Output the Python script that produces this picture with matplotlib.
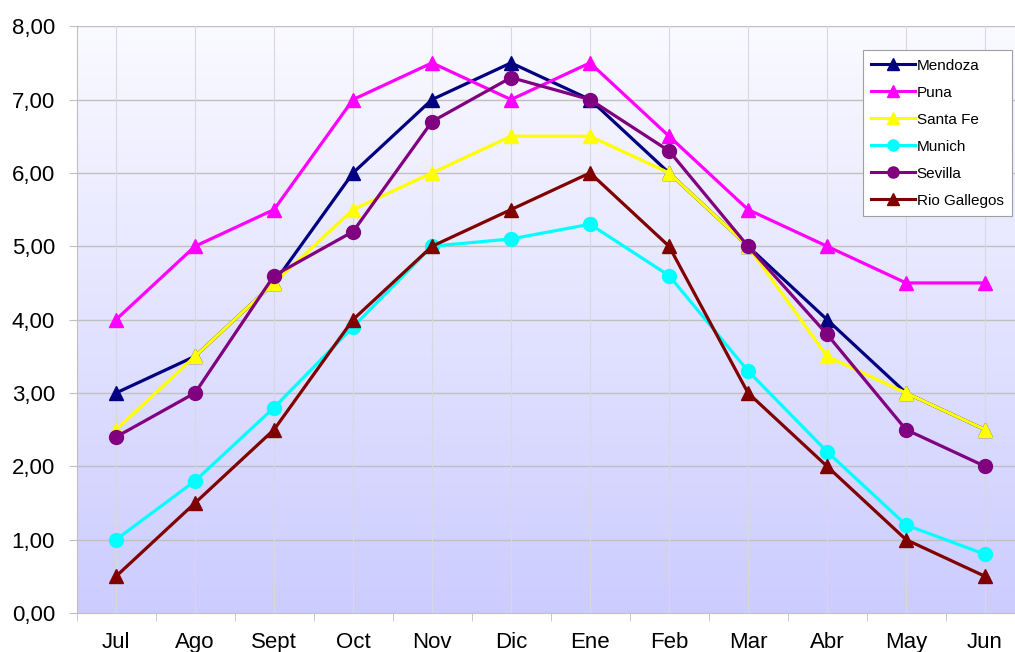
import matplotlib.pyplot as plt
import numpy as np
from matplotlib.ticker import FuncFormatter

meses = ['Jul', 'Ago', 'Sept', 'Oct', 'Nov', 'Dic', 'Ene', 'Feb', 'Mar', 'Abr', 'May', 'Jun']

mendoza = [3.0, 3.5, 4.5, 6.0, 7.0, 7.5, 7.0, 6.0, 5.0, 4.0, 3.0, 2.5]
puna = [4.0, 5.0, 5.5, 7.0, 7.5, 7.0, 7.5, 6.5, 5.5, 5.0, 4.5, 4.5]
santa_fe = [2.5, 3.5, 4.5, 5.5, 6.0, 6.5, 6.5, 6.0, 5.0, 3.5, 3.0, 2.5]
munich = [1.0, 1.8, 2.8, 3.9, 5.0, 5.1, 5.3, 4.6, 3.3, 2.2, 1.2, 0.8]
sevilla = [2.4, 3.0, 4.6, 5.2, 6.7, 7.3, 7.0, 6.3, 5.0, 3.8, 2.5, 2.0]
rio_gallegos = [0.5, 1.5, 2.5, 4.0, 5.0, 5.5, 6.0, 5.0, 3.0, 2.0, 1.0, 0.5]

series = [
    ('Mendoza', mendoza, '#000080', '^'),
    ('Puna', puna, '#ff00ff', '^'),
    ('Santa Fe', santa_fe, '#ffff00', '^'),
    ('Munich', munich, '#00ffff', 'o'),
    ('Sevilla', sevilla, '#800080', 'o'),
    ('Rio Gallegos', rio_gallegos, '#800000', '^'),
]

plt.rcParams['font.family'] = ['Liberation Sans', 'DejaVu Sans']

fig = plt.figure(figsize=(10.15, 6.52), dpi=100)
ax = fig.add_axes([0.0754, 0.0598, 0.934, 0.900])

x = np.arange(len(meses))
ax.set_xlim(-0.5, len(meses) - 0.5)
ax.set_ylim(0, 8)

# fondo degradado
grad = np.linspace(0, 1, 256).reshape(-1, 1)
top = np.array([0.98, 0.98, 1.0])
bot = np.array([0.80, 0.80, 1.0])
img = top + (bot - top) * grad[:, :, None]
ax.imshow(img, extent=[0, 1, 0, 1], transform=ax.transAxes, aspect='auto', zorder=0)

# rejilla
for yv in range(1, 9):
    ax.axhline(yv, color='#c0c0c0', lw=1, zorder=1)
for xv in x:
    ax.axvline(xv, color='#d8d8e0', lw=0.8, zorder=1)

for nombre, datos, color, marcador in series:
    ax.plot(x, datos, color=color, lw=2.3, marker=marcador, ms=10,
            label=nombre, zorder=3, clip_on=False)

ax.set_xticks(x)
ax.set_xticklabels(meses, fontsize=16)
ax.set_xticks(np.arange(-0.5, len(meses), 1), minor=True)
ax.tick_params(axis='x', which='major', length=0, pad=14)
ax.tick_params(axis='x', which='minor', length=6, color='#c0c0c0')
ax.set_yticks(range(0, 9))
ax.yaxis.set_major_formatter(FuncFormatter(lambda v, p: f'{v:.2f}'.replace('.', ',')))
ax.tick_params(axis='y', labelsize=16, length=5.5, color='#c0c0c0', pad=10)

for s in ['top', 'right']:
    ax.spines[s].set_visible(False)
ax.spines['left'].set_color('#c0c0c0')
ax.spines['bottom'].set_color('#c0c0c0')

leg = ax.legend(loc='upper left', bbox_to_anchor=(0.8297, 0.959), fontsize=11,
                frameon=True, fancybox=False, edgecolor='#a0a0a0', framealpha=1,
                handlelength=2.85, borderpad=0.55, labelspacing=0.85, handletextpad=0.1,
                borderaxespad=0)
leg.get_frame().set_linewidth(0.8)
for h in leg.legend_handles:
    h.set_markersize(8)
    h.set_linewidth(2.2)

fig.savefig('out.png', dpi=100)
